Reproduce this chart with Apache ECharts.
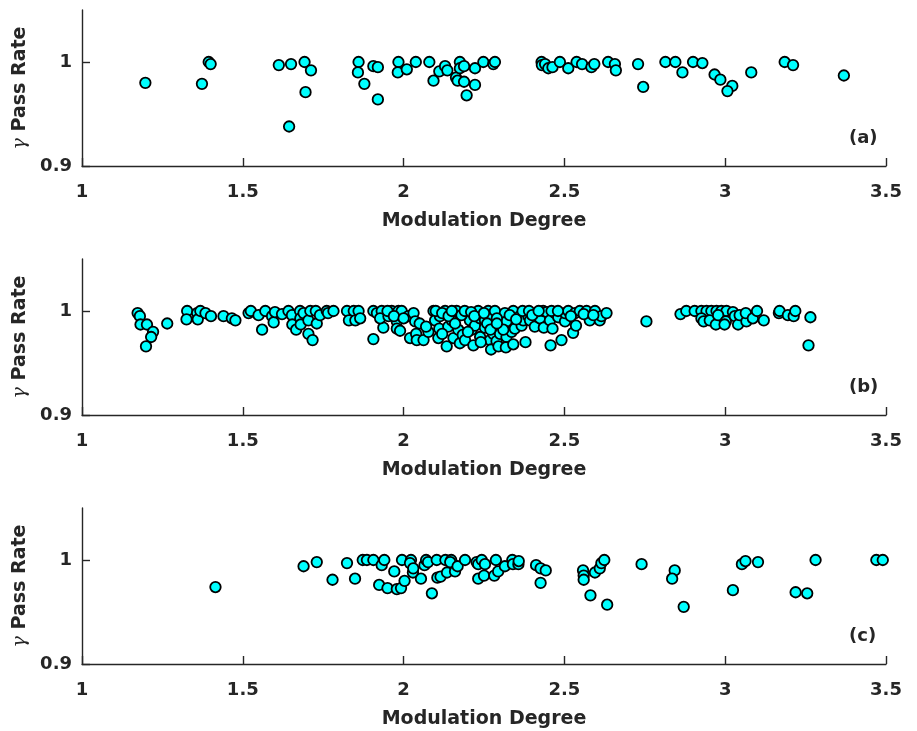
<!DOCTYPE html>
<html>
<head>
<meta charset="utf-8">
<script src="https://cdn.jsdelivr.net/npm/echarts@6/dist/echarts.min.js"></script>
<style>html,body{margin:0;padding:0;background:#fff}#c{width:917px;height:731px}</style>
</head>
<body>
<div id="c"></div>
<script>
// ---- data ----
const xTicks = [1, 1.5, 2, 2.5, 3, 3.5];
const yTicks = [0.9, 1];
const panelLabels = ['(a)', '(b)', '(c)'];
const xName = 'Modulation Degree';
const yName = 'Pass Rate';

const panelA = [
  [1.197,0.980],[1.373,0.979],[1.394,1.000],[1.400,0.998],[1.612,0.997],[1.650,0.998],[1.644,0.938],
  [1.692,1.000],[1.712,0.992],[1.695,0.971],[1.860,1.000],[1.858,0.990],[1.878,0.979],[1.906,0.996],
  [1.920,0.995],[1.920,0.964],[1.984,1.000],[1.982,0.990],[2.010,0.993],[2.038,1.000],[2.080,1.000],
  [2.093,0.982],[2.111,0.991],[2.129,0.996],[2.136,0.992],[2.163,0.985],[2.168,0.982],[2.175,1.000],
  [2.175,0.994],[2.188,0.996],[2.188,0.981],[2.196,0.968],[2.222,0.994],[2.222,0.978],[2.248,1.000],
  [2.279,0.998],[2.284,1.000],
  [2.429,1.000],[2.430,0.997],[2.440,0.998],[2.450,0.994],[2.463,0.995],[2.486,1.000],[2.512,0.994],
  [2.538,1.000],[2.555,0.998],[2.584,0.995],[2.593,0.998],[2.636,1.000],[2.657,0.998],[2.660,0.992],
  [2.729,0.998],[2.745,0.976],[2.814,1.000],[2.845,1.000],[2.867,0.990],[2.900,1.000],[2.929,0.999],
  [2.967,0.988],[2.985,0.983],[3.022,0.977],[3.007,0.972],[3.081,0.990],[3.185,1.000],[3.211,0.997],
  [3.369,0.987]
];

const panelB = [
  [1.173,0.998],[1.180,0.995],[1.182,0.987],[1.202,0.987],[1.221,0.980],[1.215,0.975],[1.199,0.966],[1.265,0.988],
  [1.327,1.000],[1.325,0.992],[1.358,0.998],[1.360,0.992],[1.368,1.000],[1.384,0.998],[1.401,0.995],[1.440,0.995],
  [1.466,0.993],[1.477,0.991],[1.518,0.998],[1.525,1.000],[1.549,0.996],[1.560,0.982],[1.570,1.000],[1.591,0.995],
  [1.596,0.989],[1.600,0.999],[1.622,0.997],[1.642,1.000],[1.653,0.996],[1.654,0.987],[1.666,0.982],[1.678,1.000],
  [1.679,0.993],[1.680,0.987],[1.689,0.998],[1.704,0.978],[1.717,0.972],[1.704,0.991],[1.710,1.000],[1.727,1.000],
  [1.730,0.988],[1.740,0.996],[1.761,1.000],[1.765,0.998],[1.782,1.000],[1.824,1.000],[1.830,0.991],[1.845,1.000],
  [1.850,0.991],[1.860,1.000],[1.865,0.993],
  [1.906,0.973],[1.906,1.000],[1.917,0.998],[1.932,1.000],[1.937,0.984],[1.927,0.993],[1.953,0.995],[1.963,1.000],
  [1.979,0.990],[1.979,0.983],[1.989,0.981],[1.984,1.000],[1.994,1.000],[2.015,0.995],[2.031,0.998],[2.036,0.990],
  [2.020,0.974],[2.039,0.978],[2.041,0.972],[2.062,0.972],[2.077,0.980],[2.093,1.000],[2.098,0.991],[2.108,0.974],
  [2.111,0.983],[2.113,0.995],[2.129,1.000],[2.134,0.966],[2.139,0.985],[2.150,0.991],[2.155,0.974],[2.165,1.000],
  [2.170,0.982],[2.175,0.969],[2.184,0.977],[2.191,0.972],[2.201,0.998],[2.206,0.991],[2.212,0.982],[2.217,0.967],
  [2.222,0.986],[2.232,1.000],[2.238,0.993],[2.238,0.975],[2.253,0.991],[2.253,0.984],[2.263,1.000],[2.269,0.972],
  [2.272,0.963],[2.274,0.996],[2.279,0.978],[2.284,1.000],[2.289,0.971],[2.295,0.966],[2.300,0.986],[2.300,0.978],
  [2.315,0.998],[2.320,0.990],[2.320,0.975],[2.318,0.965],[2.336,0.980],[2.341,0.968],[2.341,1.000],[2.346,0.983],
  [2.362,0.995],[2.367,0.986],[2.372,0.991],[2.379,0.970],[2.388,0.995],[2.393,0.991],[2.408,0.985],[2.414,0.998],
  [2.424,0.993],[2.434,1.000],[2.436,0.984],[2.445,0.999],[2.455,0.991],[2.457,0.967],[2.463,0.983],[2.471,0.998],
  [2.481,0.994],[2.491,0.972],[2.502,0.990],[2.502,0.998],[2.512,1.000],[2.527,0.979],[2.533,0.998],[2.536,0.986],
  [2.548,1.000],[2.569,1.000],[2.579,0.991],[2.595,1.000],[2.610,0.991],[2.615,0.995],[2.631,0.998],[2.755,0.990],
  [2.100,1.000],[2.120,0.998],[2.140,0.995],[2.150,1.000],[2.180,0.996],[2.190,1.000],[2.210,0.999],[2.220,0.995],
  [2.250,0.998],[2.260,0.988],[2.290,0.993],[2.310,0.982],[2.330,0.996],[2.350,0.992],[2.370,1.000],[2.390,1.000],
  [2.400,0.996],[2.420,1.000],[2.460,1.000],[2.480,1.000],[2.520,0.995],[2.560,0.997],[2.590,0.996],[1.950,1.000],
  [1.970,0.995],[2.000,0.993],[2.050,0.988],[2.070,0.985],[2.120,0.978],[2.160,0.988],[2.200,0.980],[2.240,0.970],
  [2.270,0.982],[2.290,0.988],
  [2.861,0.997],[2.879,1.000],[2.905,1.000],[2.926,1.000],[2.942,1.000],[2.957,1.000],[2.973,1.000],[2.988,1.000],
  [3.004,1.000],[3.024,0.999],[2.926,0.993],[2.933,0.990],[2.952,0.991],[2.971,0.987],[2.978,0.996],[3.002,0.990],
  [2.998,0.987],[3.030,0.995],[3.040,0.987],[3.045,0.996],[3.066,0.990],[3.064,0.998],[3.086,0.993],[3.099,1.000],
  [3.120,0.991],[3.167,0.998],[3.169,1.000],[3.195,0.996],[3.213,0.995],[3.218,1.000],[3.265,0.994],[3.259,0.967]
];

const panelC = [
  [1.415,0.974],[1.689,0.994],[1.730,0.998],[1.779,0.981],[1.824,0.997],[1.849,0.982],[1.873,1.000],[1.886,1.000],
  [1.906,1.000],[1.932,0.995],[1.940,1.000],[1.924,0.976],[1.950,0.973],[1.971,0.989],[1.979,0.972],[1.992,0.973],
  [2.003,0.980],[1.995,1.000],[2.023,1.000],[2.020,0.997],[2.029,0.988],[2.030,0.992],[2.054,0.982],[2.065,0.995],
  [2.070,1.000],[2.076,0.998],[2.088,0.968],[2.103,1.000],[2.105,0.983],[2.115,0.984],[2.130,1.000],[2.148,1.000],
  [2.135,0.988],[2.145,0.998],[2.160,0.989],[2.168,0.994],[2.191,1.000],[2.227,0.998],[2.232,0.996],[2.232,0.982],
  [2.243,1.000],[2.250,0.985],[2.253,0.996],[2.282,0.985],[2.287,1.000],[2.294,0.989],[2.315,0.994],[2.338,1.000],
  [2.340,0.996],[2.357,0.996],[2.358,0.999],[2.412,0.995],[2.426,0.992],[2.442,0.990],[2.426,0.978],[2.558,0.990],
  [2.560,0.985],[2.560,0.981],[2.581,0.966],[2.595,0.988],[2.610,0.992],[2.615,0.997],[2.624,1.000],[2.633,0.957],
  [2.740,0.996],[2.843,0.990],[2.835,0.982],[2.871,0.955],[3.024,0.971],[3.052,0.996],[3.063,0.999],[3.102,0.998],
  [3.219,0.969],[3.255,0.968],[3.281,1.000],[3.470,1.000],[3.490,1.000]
];
const panels = [panelA, panelB, panelC];

// ---- chart ----
const FONT = 'DejaVu Sans';
const INK = '#262626';
const gridTops = [10, 259, 508];
const gridH = 156;
const chart = echarts.init(document.getElementById('c'), null, {renderer: 'canvas'});

const grids = [], xAxes = [], yAxes = [], series = [], graphics = [];
panels.forEach((data, i) => {
  grids.push({left: 82, right: 31, top: gridTops[i], height: gridH, containLabel: false});
  xAxes.push({
    type: 'value', gridIndex: i, min: 1, max: 3.5, interval: 0.5,
    name: xName, nameLocation: 'middle', nameGap: 46,
    nameTextStyle: {fontFamily: FONT, fontWeight: 'bold', fontSize: 19, color: INK},
    axisLine: {show: true, onZero: false, lineStyle: {color: INK, width: 1.4}},
    axisTick: {show: true, inside: true, length: 8, lineStyle: {color: INK, width: 1.4}},
    axisLabel: {fontFamily: FONT, fontWeight: 'bold', fontSize: 18, color: INK, margin: 17,
      formatter: v => String(v)},
    splitLine: {show: false}
  });
  yAxes.push({
    type: 'value', gridIndex: i, min: 0.9, max: 1.05, interval: 0.1,
    name: '{g|γ} ' + yName, nameLocation: 'middle', nameGap: 40, nameRotate: 90,
    nameTextStyle: {fontFamily: FONT, fontWeight: 'bold', fontSize: 19, color: INK,
      rich: {g: {fontFamily: 'DejaVu Serif', fontStyle: 'italic', fontWeight: 'normal', fontSize: 19, color: INK}}},
    axisLine: {show: true, onZero: false, lineStyle: {color: INK, width: 1.4}},
    axisTick: {show: true, inside: true, length: 8, customValues: yTicks, lineStyle: {color: INK, width: 1.4}},
    axisLabel: {fontFamily: FONT, fontWeight: 'bold', fontSize: 18, color: INK, margin: 10,
      customValues: yTicks, formatter: v => String(Math.round(v * 10) / 10)},
    splitLine: {show: false}
  });
  series.push({
    type: 'scatter', xAxisIndex: i, yAxisIndex: i, data: data,
    symbol: 'circle', symbolSize: 10.5,
    itemStyle: {color: '#00FFFF', borderColor: '#000', borderWidth: 1.8, opacity: 1},
    emphasis: {disabled: true}, animation: false
  });
  graphics.push({
    type: 'text', left: 849, top: gridTops[i] + 119,
    style: {text: panelLabels[i], font: 'bold 18px "' + FONT + '"', fill: INK}
  });
});

chart.setOption({
  animation: false,
  grid: grids, xAxis: xAxes, yAxis: yAxes, series: series, graphic: graphics
});
</script>
</body>
</html>
